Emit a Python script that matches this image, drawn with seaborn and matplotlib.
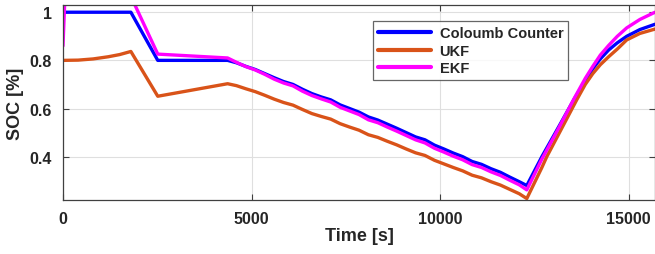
import matplotlib
matplotlib.use("Agg")
import matplotlib.pyplot as plt
import numpy as np
import pandas as pd
import seaborn as sns

# discharge section times shared by the three estimators
t_dis = [4600, 4850, 5100, 5350, 5600, 5850, 6100, 6350, 6600, 6850, 7100,
         7350, 7600, 7850, 8100, 8350, 8600, 8850, 9100, 9350, 9600, 9850,
         10100, 10350, 10600, 10850, 11100, 11350, 11600, 11850, 12100, 12300]

# Coloumb Counter
cc_t = [0, 1800, 2513, 4365] + t_dis + [12700, 13150, 13550, 13850, 14050, 14250, 14470, 14700, 14950, 15300, 15700]
cc_v = [1.0, 1.0, 0.80, 0.80,
        0.790, 0.775, 0.762, 0.745, 0.728, 0.712, 0.700, 0.680, 0.662, 0.648, 0.636,
        0.615, 0.600, 0.585, 0.565, 0.552, 0.535, 0.518, 0.500, 0.482, 0.470, 0.448,
        0.432, 0.415, 0.400, 0.380, 0.368, 0.350, 0.335, 0.315, 0.296, 0.280,
        0.400, 0.525, 0.637, 0.715, 0.765, 0.806, 0.843, 0.873, 0.900, 0.928, 0.950]

# UKF
ukf_t = [0, 400, 800, 1200, 1500, 1800, 2513, 4365] + t_dis + [12700, 12830, 13150, 13627, 13850, 14050, 14250, 14470, 14700, 14950, 15300, 15700]
ukf_v = [0.800, 0.801, 0.806, 0.815, 0.824, 0.837, 0.651, 0.703,
         0.695, 0.682, 0.670, 0.655, 0.639, 0.625, 0.614, 0.596, 0.579, 0.567, 0.556,
         0.537, 0.523, 0.510, 0.491, 0.480, 0.464, 0.449, 0.432, 0.416, 0.405, 0.385,
         0.370, 0.355, 0.341, 0.323, 0.312, 0.296, 0.282, 0.264, 0.246, 0.226,
         0.355, 0.400, 0.495, 0.637, 0.700, 0.745, 0.782, 0.815, 0.847, 0.885, 0.912, 0.930]

# EKF
ekf_t = [0, 60, 1700, 2513, 4365] + t_dis + [12700, 13150, 13550, 13850, 14050, 14250, 14470, 14700, 14950, 15300, 15700]
ekf_v = [0.86, 1.10, 1.10, 0.826, 0.810,
         0.792, 0.774, 0.760, 0.742, 0.722, 0.706, 0.694, 0.672, 0.654, 0.640, 0.627,
         0.605, 0.590, 0.575, 0.553, 0.541, 0.523, 0.506, 0.488, 0.470, 0.457, 0.435,
         0.419, 0.402, 0.387, 0.367, 0.355, 0.337, 0.322, 0.302, 0.283, 0.262,
         0.390, 0.520, 0.640, 0.725, 0.775, 0.822, 0.862, 0.900, 0.935, 0.970, 1.000]

names = ["Coloumb Counter", "UKF", "EKF"]
colors = ["#0000FF", "#D95319", "#FF00FF"]

df = pd.concat([
    pd.DataFrame({"Time": cc_t, "SOC": cc_v, "method": names[0]}),
    pd.DataFrame({"Time": ukf_t, "SOC": ukf_v, "method": names[1]}),
    pd.DataFrame({"Time": ekf_t, "SOC": ekf_v, "method": names[2]}),
])

sns.set_style("ticks")
plt.rcParams["font.family"] = ["Liberation Sans", "DejaVu Sans"]
plt.rcParams["font.weight"] = "bold"

fig = plt.figure(figsize=(6.55, 2.55), dpi=100)
ax = fig.add_axes([63 / 655, 54 / 255, 592 / 655, 195 / 255])

sns.lineplot(data=df, x="Time", y="SOC", hue="method", hue_order=names,
             palette=colors, linewidth=2.4, estimator=None, sort=False, ax=ax)

ax.set_xlim(0, 15700)
ax.set_ylim(0.22, 1.03)
ax.set_xticks([0, 5000, 10000, 15000])
ax.set_yticks([0.4, 0.6, 0.8, 1.0])
ax.set_yticklabels(["0.4", "0.6", "0.8", "1"])
ax.grid(True, color="#DFDFDF", linewidth=0.8)
ax.set_axisbelow(True)
for s in ax.spines.values():
    s.set_color("#404040")
    s.set_linewidth(0.9)
ax.tick_params(direction="in", length=4, color="#404040", labelsize=11.5,
               labelcolor="#262626", top=True, right=True, pad=8)
for lab in ax.get_xticklabels() + ax.get_yticklabels():
    lab.set_fontweight("bold")

ax.set_xlabel("Time [s]", fontsize=13, fontweight="bold", color="#262626", labelpad=1)
ax.set_ylabel("SOC [%]", fontsize=13, fontweight="bold", color="#262626", labelpad=4)

leg = ax.legend(loc="upper left", bbox_to_anchor=(0.524, 0.918), fontsize=10.5,
                frameon=True, fancybox=False, handlelength=3.6, borderpad=0.35,
                labelspacing=0.25, handletextpad=0.6, borderaxespad=0)
leg.get_frame().set_edgecolor("#404040")
leg.get_frame().set_linewidth(0.9)
for line in leg.get_lines():
    line.set_linewidth(3)
for txt in leg.get_texts():
    txt.set_fontweight("bold")

fig.savefig("out.png", dpi=100)
